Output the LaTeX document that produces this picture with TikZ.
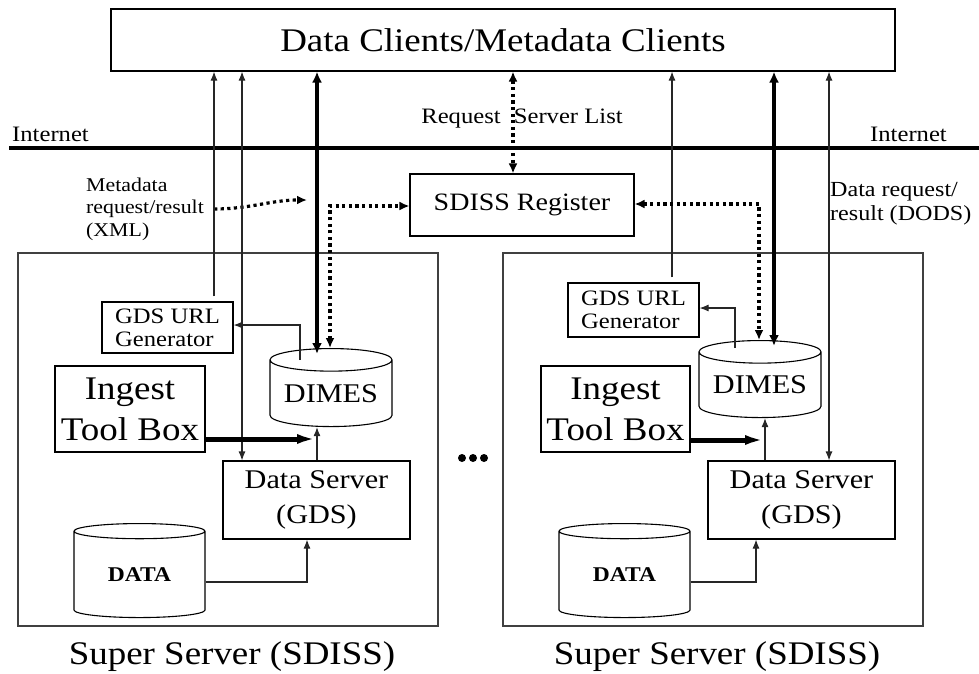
\documentclass[tikz,border=0pt]{standalone}
\usepackage{fontspec}
\setmainfont{Liberation Serif}[FakeStretch=1.12]
\usetikzlibrary{shapes.geometric,arrows.meta,positioning,calc}

\begin{document}
\begin{tikzpicture}[
    x=1pt, y=-1pt,
    box/.style={draw, line width=1.1pt, inner sep=0pt, align=center},
    frame/.style={draw=black!75, line width=1.3pt, inner sep=0pt},
    store/.style={cylinder, shape border rotate=90, draw, line width=1.1pt,
                  aspect=0.24, inner sep=0pt, anchor=north},
    thinline/.style={draw=black!85, line width=1.1pt, >={Latex[length=9pt,width=7pt]}},
    bulk/.style={line width=3.8pt, >={Latex[length=11pt,width=10pt]}},
    dots/.style={line width=3.2pt, dash pattern=on 3.2pt off 3.4pt,
                 >={Latex[length=10pt,width=9pt]}},
    huge/.style={font=\fontsize{33}{41}\selectfont},
    large/.style={font=\fontsize{27}{35}\selectfont},
    mid/.style={font=\fontsize{22}{23}\selectfont},
    note/.style={font=\fontsize{19.5}{22.5}\selectfont, align=left, inner sep=0pt}
]
    \useasboundingbox (0,0) rectangle (979,673);

    % clients, internet and register
    \node[box, huge, minimum width=784pt, minimum height=62pt] (clients) at (503,40) {Data Clients/Metadata Clients};
    \coordinate (netW) at (9,148);
    \coordinate (netE) at (979,148);
    \draw[line width=4pt] (netW) -- (netE);
    \node[mid, font=\fontsize{22}{24}\selectfont, anchor=base west, inner sep=0pt] (netL) at (12,141) {Internet};
    \node[mid, font=\fontsize{22}{24}\selectfont, anchor=base east, inner sep=0pt] (netR) at (947,141) {Internet};

    \node[box, font=\fontsize{25}{30}\selectfont, minimum width=224pt, minimum height=62pt] (reg) at (522,205) {SDISS Register};
    \node[mid, anchor=base, inner sep=0pt] (reqlbl) at (522,123) {Request\hspace{0.6em}Server List};
    \coordinate (reqX) at (513,0);
    \draw[dots, <->] (clients.south -| reqX) -- (reg.north -| reqX);

    \node[note, anchor=west] (meta) at (86,209) {Metadata\\request/result\\(XML)};
    \node[note, font=\fontsize{21.5}{24}\selectfont, anchor=west] (dods) at (830,204) {Data request/\\result (DODS)};
    \coordinate (metaTip) at (307,200);
    \draw[dots, ->] ([xshift=10pt]meta.east) to[out=0, in=180] (metaTip);

    % left super server
    \node[frame, minimum width=420pt, minimum height=373pt] (serverL) at (228,439.5) {};
    \node[huge, anchor=base, inner sep=0pt] (superL) at (232,664) {Super Server (SDISS)};
    \node[box, mid, align=left, minimum width=131pt, minimum height=51pt] (genL) at (167.5,327.5) {GDS URL\\Generator};
    \node[box, huge, minimum width=150pt, minimum height=86pt] (ingestL) at (130,409) {Ingest\\Tool Box};
    \node[store, large, minimum width=122pt, minimum height=78pt] (dimesL) at (331,348) {DIMES};
    \node[box, large, minimum width=187pt, minimum height=78pt] (dsL) at (316.5,500) {Data Server\\(GDS)};
    \node[store, font=\fontsize{21}{24}\selectfont\bfseries, minimum width=131pt, minimum height=94pt] (dataL) at (139.5,523) {DATA};

    \coordinate (urlL) at (214,0);
    \coordinate (pullL) at (242,0);
    \coordinate (bulkL) at (317,0);
    \coordinate (regL) at (330,206);
    \coordinate (genupL) at (300,325);
    \coordinate (ingL) at (317,439);
    \coordinate (feedL) at (307,582);

    \draw[thinline, ->, shorten <=5pt] (genL.north -| urlL) -- (clients.south -| urlL);
    \draw[thinline, <->] (clients.south -| pullL) -- (dsL.north -| pullL);
    \draw[bulk, <->, shorten >=-6pt] (clients.south -| bulkL) -- (dimesL.north -| bulkL);
    \draw[dots, <->] (dimesL.north -| regL) |- (reg.west |- regL);
    \draw[thinline, ->] ([yshift=-12pt]dimesL.north -| genupL) |- (genL.east |- genupL);
    \draw[line width=5pt, -{Latex[length=20pt,width=10pt]}] (ingestL.east |- ingL) -- (ingL);
    \draw[thinline, ->] (dsL.north -| bulkL) -- (dimesL.south -| bulkL);
    \draw[thinline, ->] (dataL.east |- feedL) -| (dsL.south -| feedL);

    \foreach \x in {462,473,484}
        \fill (\x,458) circle (4pt);

    % right super server
    \node[frame, minimum width=420pt, minimum height=373pt] (serverR) at (713,439.5) {};
    \node[huge, anchor=base, inner sep=0pt] (superR) at (717,664) {Super Server (SDISS)};
    \node[box, mid, align=left, minimum width=131pt, minimum height=54pt] (genR) at (633.5,310) {GDS URL\\Generator};
    \node[box, huge, minimum width=149pt, minimum height=86pt] (ingestR) at (615.5,409) {Ingest\\Tool Box};
    \node[store, large, minimum width=122pt, minimum height=77pt] (dimesR) at (760,340) {DIMES};
    \node[box, large, minimum width=187pt, minimum height=78pt] (dsR) at (801.5,500) {Data Server\\(GDS)};
    \node[store, font=\fontsize{21}{24}\selectfont\bfseries, minimum width=131pt, minimum height=94pt] (dataR) at (624.5,523) {DATA};

    \coordinate (urlR) at (672,0);
    \coordinate (bulkR) at (774,0);
    \coordinate (pullR) at (829,0);
    \coordinate (regR) at (759,204);
    \coordinate (genupR) at (735,308);
    \coordinate (ingR) at (765,440);
    \coordinate (feedR) at (756,582);

    \draw[thinline, ->, shorten <=5pt] (genR.north -| urlR) -- (clients.south -| urlR);
    \draw[bulk, <->, shorten >=-6pt] (clients.south -| bulkR) -- (dimesR.north -| bulkR);
    \draw[thinline, <->] (clients.south -| pullR) -- (dsR.north -| pullR);
    \draw[dots, <->] (reg.east |- regR) -| (dimesR.north -| regR);
    \draw[thinline, ->] ([yshift=-8pt]dimesR.north -| genupR) |- (genR.east |- genupR);
    \draw[line width=5pt, -{Latex[length=20pt,width=10pt]}] (ingestR.east |- ingR) -- (ingR);
    \draw[thinline, ->] (dsR.north -| ingR) -- (dimesR.south -| ingR);
    \draw[thinline, ->] (dataR.east |- feedR) -| (dsR.south -| feedR);
\end{tikzpicture}
\end{document}
